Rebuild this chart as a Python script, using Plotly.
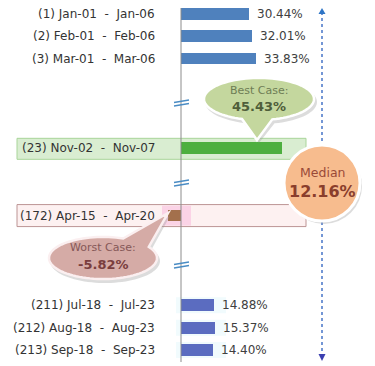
import math
import plotly.graph_objects as go

# ---------------- data ----------------
period_labels = [
    "(1) Jan-01  -  Jan-06",
    "(2) Feb-01  -  Feb-06",
    "(3) Mar-01  -  Mar-06",
    "(23) Nov-02  -  Nov-07",
    "(172) Apr-15  -  Apr-20",
    "(211) Jul-18  -  Jul-23",
    "(212) Aug-18  -  Aug-23",
    "(213) Sep-18  -  Sep-23",
]
returns_pct = [30.44, 32.01, 33.83, 45.43, -5.82, 14.88, 15.37, 14.40]
median_pct = 12.16

# ---------------- layout helpers ----------------
OFF = 8                      # page body margin
W, H = 375 - OFF, 366 - OFF  # figure size
X0_PX, PX_PER_PCT = 181 - OFF, 2.22
ROW0_PX, PX_PER_ROW = 13.8, 22.42
Y0_PX = ROW0_PX - OFF
row_slot = [0, 1, 2, 6, 9, 13, 14, 15]   # vertical slots (gaps = axis breaks)
break_px = [101, 181, 263]

best_i = returns_pct.index(max(returns_pct))
worst_i = returns_pct.index(min(returns_pct))

def px(x):
    return (x - OFF) / W

def py(y):
    return 1 - (y - OFF) / H

def fmt(v):
    return f"{v:.2f}%"

lbl = [s.replace(" ", "\u00a0") for s in period_labels]

colors = []
for i in range(len(returns_pct)):
    if i == best_i:
        colors.append("#4DAF3F")
    elif i == worst_i:
        colors.append("#A3704C")
    elif row_slot[i] < row_slot[best_i]:
        colors.append("#4F81BD")
    else:
        colors.append("#5B6CC0")

FONT = "DejaVu Sans"
fig = go.Figure()

shapes = []
annotations = []

def row_px(i):
    return ROW0_PX + PX_PER_ROW * row_slot[i]

# highlight rows (best / worst)
by = row_px(best_i)
shapes.append(dict(type="rect", xref="paper", yref="paper",
                   x0=px(17), x1=px(306), y0=py(by - 10), y1=py(by + 11),
                   fillcolor="#D9EDD1", line=dict(color="#A9D59A", width=1), layer="below"))
wy = row_px(worst_i)
shapes.append(dict(type="rect", xref="paper", yref="paper",
                   x0=px(17), x1=px(306), y0=py(wy - 11), y1=py(wy + 11),
                   fillcolor="#FDF1F1", line=dict(color="#BC9494", width=1), layer="below"))
shapes.append(dict(type="rect", xref="paper", yref="paper",
                   x0=px(162), x1=px(191), y0=py(wy - 10), y1=py(wy + 10),
                   fillcolor="#FBD3E6", line=dict(width=0), layer="below"))
# faint row tints for the last rows
for i in range(len(returns_pct)):
    if row_slot[i] > row_slot[worst_i]:
        yy = row_px(i)
        shapes.append(dict(type="rect", xref="paper", yref="paper",
                           x0=px(176), x1=px(226), y0=py(yy - 8), y1=py(yy + 8),
                           fillcolor="#F1FBFD", line=dict(width=0), layer="below"))

fig.add_trace(go.Bar(
    x=returns_pct, y=row_slot, orientation="h",
    marker=dict(color=colors, line=dict(width=0)),
    width=0.52, hoverinfo="skip", showlegend=False,
))

# zero axis line
shapes.append(dict(type="line", xref="x", yref="paper", x0=0, x1=0,
                   y0=py(362), y1=py(0), line=dict(color="#8C8C8C", width=1)))

# break marks
for b in break_px:
    for d in (0, 3.5):
        shapes.append(dict(type="line", xref="paper", yref="paper",
                           x0=px(174), y0=py(b + 1.5 + d), x1=px(189), y1=py(b - 1 + d),
                           line=dict(color="#4A8CC4", width=1.3)))

# category labels and value labels
for i, (t, v) in enumerate(zip(lbl, returns_pct)):
    yy = py(row_px(i))
    annotations.append(dict(xref="paper", yref="paper", x=px(157), y=yy, text=t,
                            showarrow=False, xanchor="right", yanchor="middle",
                            font=dict(family=FONT, size=12, color="#333333")))
    if i not in (best_i, worst_i):
        annotations.append(dict(xref="x", yref="paper", x=v, y=yy, text=fmt(v),
                                showarrow=False, xanchor="left", yanchor="middle", xshift=6,
                                font=dict(family=FONT, size=12, color="#404040")))

# dotted double arrow
AX = 322
shapes.append(dict(type="line", xref="paper", yref="paper", x0=px(AX), x1=px(AX),
                   y0=py(12), y1=py(356), line=dict(color="#3A6BC4", width=1.4, dash="dot")))
shapes.append(dict(type="path", xref="paper", yref="paper",
                   path=f"M {px(AX)},{py(8)} L {px(AX-3.5)},{py(14)} L {px(AX+3.5)},{py(14)} Z",
                   fillcolor="#2E75C6", line=dict(width=0)))
shapes.append(dict(type="path", xref="paper", yref="paper",
                   path=f"M {px(AX)},{py(361)} L {px(AX-3.5)},{py(354)} L {px(AX+3.5)},{py(354)} Z",
                   fillcolor="#3B3FB0", line=dict(width=0)))


def bubble_path(cx, cy, rx, ry, t_skip0, t_skip1, tip, dx=0, dy=0):
    pts = []
    n = 90
    inserted = False
    for k in range(n + 1):
        t = 360 * k / n
        if t_skip0 < t < t_skip1:
            if not inserted:
                pts.append(tip)
                inserted = True
            continue
        a = math.radians(t)
        pts.append((cx + rx * math.cos(a), cy + ry * math.sin(a)))
    return "M " + " L ".join(f"{px(x+dx):.5f},{py(y+dy):.5f}" for x, y in pts) + " Z"

# best-case bubble
bcx, bcy = 259, 99
shapes.append(dict(type="path", xref="paper", yref="paper",
                   path=bubble_path(bcx, bcy, 56, 22, 78, 105, (257, 140), 2, 3),
                   fillcolor="#9A9A9A", opacity=0.35, line=dict(width=0)))
shapes.append(dict(type="path", xref="paper", yref="paper",
                   path=bubble_path(bcx, bcy, 55, 21, 78, 105, (257, 140)),
                   fillcolor="#C4D79E", line=dict(color="#FFFFFF", width=2.5)))
annotations.append(dict(xref="paper", yref="paper", x=px(bcx), y=py(90), text="Best Case:",
                        showarrow=False, xanchor="center", yanchor="middle",
                        font=dict(family=FONT, size=11, color="#6E7D55")))
annotations.append(dict(xref="paper", yref="paper", x=px(bcx), y=py(106),
                        text=f"<b>{fmt(returns_pct[best_i])}</b>",
                        showarrow=False, xanchor="center", yanchor="middle",
                        font=dict(family=FONT, size=13, color="#4F5E3A")))

# worst-case bubble
wcx, wcy = 103, 258
shapes.append(dict(type="path", xref="paper", yref="paper",
                   path=bubble_path(wcx, wcy, 55, 22, 295, 325, (168, 213), 2, 3),
                   fillcolor="#9A9A9A", opacity=0.35, line=dict(width=0)))
shapes.append(dict(type="path", xref="paper", yref="paper",
                   path=bubble_path(wcx, wcy, 54, 21, 295, 325, (168, 213)),
                   fillcolor="#D5ABA6", line=dict(color="#FBEFF0", width=2.5)))
annotations.append(dict(xref="paper", yref="paper", x=px(wcx), y=py(247), text="Worst Case:",
                        showarrow=False, xanchor="center", yanchor="middle",
                        font=dict(family=FONT, size=11, color="#855858")))
annotations.append(dict(xref="paper", yref="paper", x=px(wcx), y=py(264),
                        text=f"<b>{fmt(returns_pct[worst_i])}</b>",
                        showarrow=False, xanchor="center", yanchor="middle",
                        font=dict(family=FONT, size=13, color="#7A3E3E")))

# median circle
mcx, mcy, mr = 322, 183, 38
shapes.append(dict(type="circle", xref="paper", yref="paper",
                   x0=px(mcx - mr + 2), x1=px(mcx + mr + 2), y0=py(mcy + mr + 3), y1=py(mcy - mr + 3),
                   fillcolor="#9A9A9A", opacity=0.35, line=dict(width=0)))
shapes.append(dict(type="circle", xref="paper", yref="paper",
                   x0=px(mcx - mr), x1=px(mcx + mr), y0=py(mcy + mr), y1=py(mcy - mr),
                   fillcolor="#F7BC8E", line=dict(color="#FFFFFF", width=3)))
annotations.append(dict(xref="paper", yref="paper", x=px(mcx), y=py(172), text="Median",
                        showarrow=False, xanchor="center", yanchor="middle",
                        font=dict(family=FONT, size=12.5, color="#9A4A38")))
annotations.append(dict(xref="paper", yref="paper", x=px(mcx), y=py(191),
                        text=f"<b>{fmt(median_pct)}</b>",
                        showarrow=False, xanchor="center", yanchor="middle",
                        font=dict(family=FONT, size=16, color="#8A3E2C")))

fig.update_layout(
    width=W, height=H, autosize=False,
    margin=dict(l=0, r=0, t=0, b=0, pad=0),
    paper_bgcolor="#FFFFFF", plot_bgcolor="#FFFFFF",
    xaxis=dict(range=[-X0_PX / PX_PER_PCT, (W - X0_PX) / PX_PER_PCT], visible=False, fixedrange=True),
    yaxis=dict(range=[(H - Y0_PX) / PX_PER_ROW, -Y0_PX / PX_PER_ROW], visible=False, fixedrange=True),
    shapes=shapes, annotations=annotations, bargap=0,
)

fig.write_html("out.html", config={"displayModeBar": False, "staticPlot": True})
